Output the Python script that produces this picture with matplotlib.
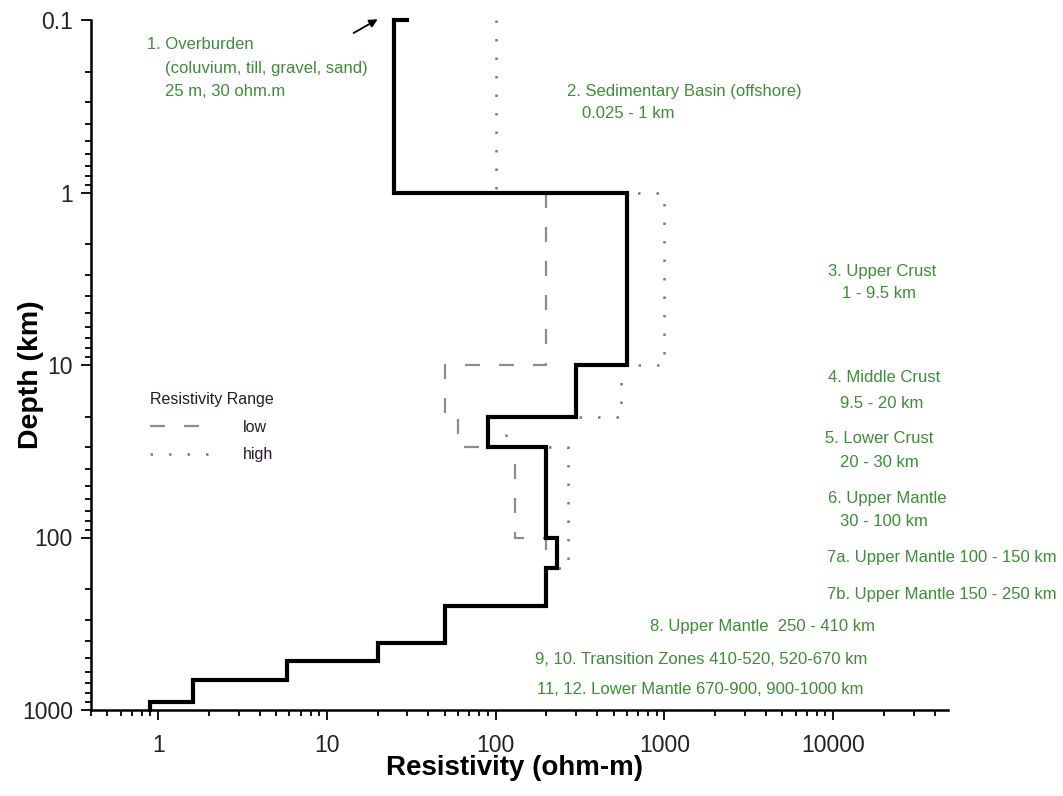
import numpy as np
import matplotlib
matplotlib.use("Agg")
import matplotlib.pyplot as plt
from matplotlib.lines import Line2D
from matplotlib.ticker import LogLocator, NullFormatter

plt.rcParams['font.family'] = ['Liberation Sans', 'DejaVu Sans']

# Layered resistivity model: layer tops (km) and resistivity (ohm-m)
layer_tops = [0.025, 0.1, 1, 10, 20, 30, 100, 150, 250, 410, 520, 670, 900]
model_bottom = 1000
rho_model = [30, 25, 600, 300, 90, 200, 230, 200, 50, 20, 5.8, 1.6, 0.9]

# Resistivity range: low bound
low_tops = [1, 10, 20, 30, 100, 150]
low_bottom = 250
rho_low = [200, 50, 60, 130, 200, 200]

# Resistivity range: high bound
high_tops = [0.1, 1, 10, 20, 30, 150]
high_bottom = 250
rho_high = [100, 1000, 550, 115, 270, 200]

x_ticks = [1, 10, 100, 1000, 10000]
x_tick_labels = ['1', '10', '100', '1000', '10000']
y_ticks = [0.1, 1, 10, 100, 1000]
y_tick_labels = ['0.1', '1', '10', '100', '1000']

GREEN = '#3d8d36'


def profile(tops, bottom, rho, top_limit=0.1):
    """Turn layer tops/values into a stepped (resistivity, depth) path."""
    tops = np.clip(np.asarray(tops, float), top_limit, None)
    bottoms = np.append(tops[1:], bottom)
    depth = np.column_stack([tops, bottoms]).ravel()
    res = np.repeat(np.asarray(rho, float), 2)
    return res, depth


fig = plt.figure(figsize=(10.63, 7.96), dpi=100)
ax = fig.add_axes([91 / 1063, 86 / 796, 857 / 1063, 690 / 796])

ax.set_xscale('log')
ax.set_yscale('log')
ax.set_xlim(0.4, 48000)
ax.set_ylim(1000, 0.1)

dotted = (0, (1, 6.4))
dashed = (0, (6.75, 8.55))

ax.plot(*profile(high_tops, high_bottom, rho_high), color='#7a7a7a', lw=1.8,
        ls=dotted, zorder=2)
ax.plot(*profile(low_tops, low_bottom, rho_low), color='#8c8c8c', lw=1.6,
        ls=dashed, zorder=3)
ax.plot(*profile(layer_tops, model_bottom, rho_model), color='black', lw=3.0,
        zorder=4, clip_on=False, solid_joinstyle='miter')

ax.annotate('', xy=(20, 0.099), xytext=(14.4, 0.119),
            arrowprops=dict(arrowstyle='-|>', color='black', lw=1.3,
                            mutation_scale=12, shrinkA=0, shrinkB=0),
            annotation_clip=False)

# Axes styling
for side in ('top', 'right'):
    ax.spines[side].set_visible(False)
for side in ('left', 'bottom'):
    ax.spines[side].set_linewidth(1.8)

ax.set_xticks(x_ticks, x_tick_labels)
ax.set_yticks(y_ticks, y_tick_labels)
ax.xaxis.set_minor_locator(LogLocator(base=10, subs=np.arange(2, 10), numticks=20))
ax.yaxis.set_minor_locator(LogLocator(base=10, subs=np.arange(2, 10), numticks=20))
ax.xaxis.set_minor_formatter(NullFormatter())
ax.yaxis.set_minor_formatter(NullFormatter())
ax.tick_params(which='major', direction='out', length=7, width=1.3,
               labelsize=16.5, labelcolor='#222222')
ax.tick_params(which='minor', direction='out', length=4.5, width=1.3)
ax.tick_params(axis='x', which='major', pad=10)
ax.tick_params(axis='y', which='major', pad=6)

ax.set_xlabel('Resistivity (ohm-m)', fontsize=20, fontweight='bold')
ax.set_ylabel('Depth (km)', fontsize=20.5, fontweight='bold')
ax.xaxis.set_label_coords(0.494, -0.065)
ax.yaxis.set_label_coords(-0.055, 0.4855)

# Layer annotations
notes = [
    (0.0653, 0.9640, '1. Overburden'),
    (0.0863, 0.9290, '(coluvium, till, gravel, sand)'),
    (0.0863, 0.8957, '25 m, 30 ohm.m'),
    (0.5554, 0.8970, '2. Sedimentary Basin (offshore)'),
    (0.5729, 0.8638, '0.025 - 1 km'),
    (0.8600, 0.6362, '3. Upper Crust'),
    (0.8763, 0.6043, '1 - 9.5 km'),
    (0.8600, 0.4812, '4. Middle Crust'),
    (0.8740, 0.4449, '9.5 - 20 km'),
    (0.8565, 0.3942, '5. Lower Crust'),
    (0.8740, 0.3594, '20 - 30 km'),
    (0.8600, 0.3072, '6. Upper Mantle'),
    (0.8740, 0.2725, '30 - 100 km'),
    (0.8588, 0.2203, '7a. Upper Mantle 100 - 150 km'),
    (0.8588, 0.1667, '7b. Upper Mantle 150 - 250 km'),
    (0.6523, 0.1203, '8. Upper Mantle  250 - 410 km'),
    (0.5181, 0.0739, '9, 10. Transition Zones 410-520, 520-670 km'),
    (0.5204, 0.0304, '11, 12. Lower Mantle 670-900, 900-1000 km'),
]
for fx, fy, txt in notes:
    ax.text(fx, fy, txt, transform=ax.transAxes, ha='left', va='center',
            fontsize=12, color=GREEN, clip_on=False)

# Legend for the range bounds
handles = [
    Line2D([], [], color='#8c8c8c', lw=1.6, ls=dashed),
    Line2D([], [], color='#7a7a7a', lw=1.8, ls=dotted),
]
leg = ax.legend(handles, ['low', 'high'], title='Resistivity Range',
                loc='upper left', bbox_to_anchor=(0.0688, 0.4610),
                frameon=False, fontsize=11.5, title_fontsize=11.5,
                handlelength=4.0, handletextpad=1.8, borderpad=0,
                borderaxespad=0, labelspacing=0.8, alignment='left',
                labelcolor='#2a1a2a')
leg.get_title().set_color('#2a1a2a')

fig.savefig('out.png', dpi=100)
